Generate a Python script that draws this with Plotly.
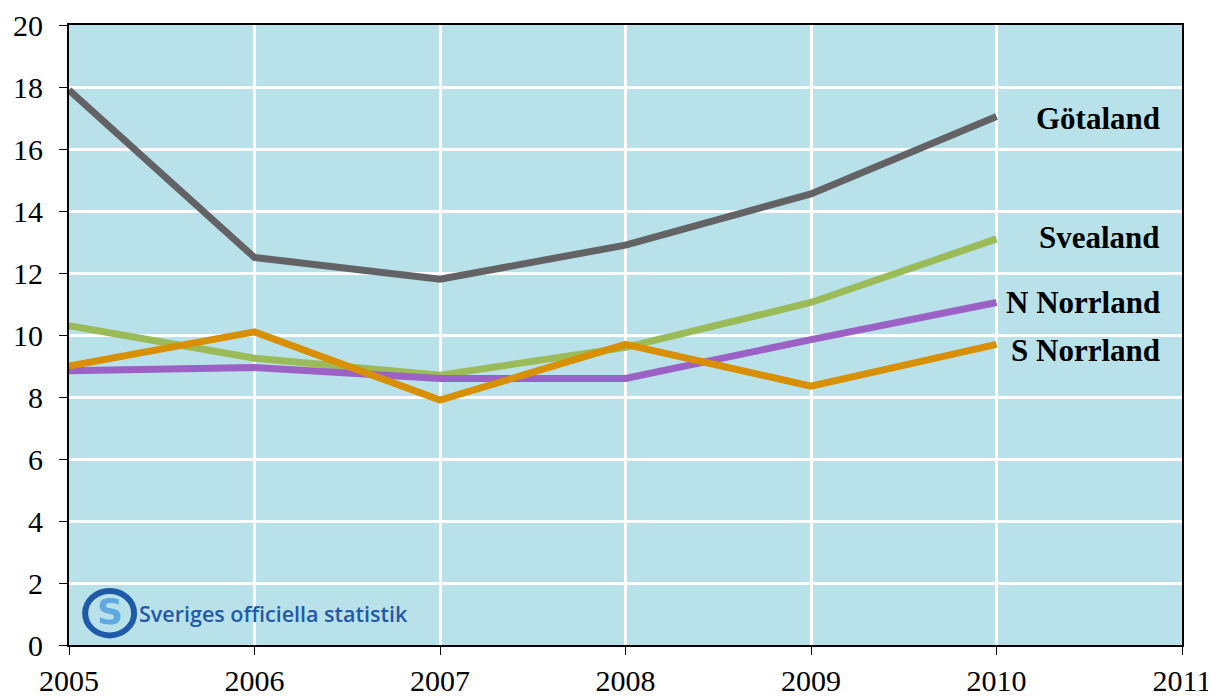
import plotly.graph_objects as go

years = [2005, 2006, 2007, 2008, 2009, 2010]
gotaland = [17.9, 12.5, 11.8, 12.9, 14.55, 17.05]
svealand = [10.3, 9.25, 8.7, 9.6, 11.05, 13.1]
n_norrland = [8.85, 8.95, 8.6, 8.6, 9.85, 11.05]
s_norrland = [9.0, 10.1, 7.9, 9.7, 8.35, 9.7]

series = [
    ("Götaland", gotaland, "#636366"),
    ("Svealand", svealand, "#9bbb59"),
    ("N Norrland", n_norrland, "#9b61c5"),
    ("S Norrland", s_norrland, "#d89000"),
]
label_y = [17.0, 13.15, 11.05, 9.5]

fig = go.Figure()
for name, vals, col in series:
    fig.add_trace(go.Scatter(x=years, y=vals, mode="lines", name=name,
                             line=dict(color=col, width=7), showlegend=False))

for (name, vals, col), ly in zip(series, label_y):
    fig.add_annotation(x=2011, y=ly, xref="x", yref="y", text="<b>%s</b>" % name,
                       showarrow=False, xanchor="right", xshift=-20,
                       font=dict(family="Liberation Serif", size=31, color="black"))

# logo
fig.add_shape(type="circle", xref="paper", yref="paper",
              x0=0.0145, x1=0.0585, y0=0.0155, y1=0.087,
              line=dict(color="#1f5aa8", width=6), fillcolor="rgba(0,0,0,0)")
fig.add_annotation(x=0.0365, y=0.0512, xref="paper", yref="paper", text="<b>S</b>",
                   showarrow=False, yanchor="middle", xanchor="center", yshift=2,
                   font=dict(family="DejaVu Sans", size=36, color="#5fa8e0"))
fig.add_annotation(x=0.0615, y=0.0512, xref="paper", yref="paper",
                   text="Sveriges officiella statistik", showarrow=False,
                   xanchor="left", yanchor="middle",
                   font=dict(family="Open Sans", size=21.5, color="#2359a8", weight=600))

fig.update_layout(
    width=1216, height=697,
    margin=dict(l=61, r=42, t=17, b=60),
    paper_bgcolor="white", plot_bgcolor="#b9e1ea",
    font=dict(family="Liberation Serif", size=30, color="black"),
)
fig.update_xaxes(range=[2005, 2011], dtick=1, tick0=2005, showgrid=True,
                 gridcolor="white", gridwidth=3, showline=True, linecolor="black",
                 linewidth=2, mirror=True, ticks="outside", ticklen=8,
                 tickcolor="black", zeroline=False, automargin=False,
                 tickfont=dict(family="Liberation Serif", size=30, color="black"))
fig.update_yaxes(range=[0, 20], dtick=2, showgrid=True, gridcolor="white", gridwidth=3,
                 showline=True, linecolor="black", linewidth=2, mirror=True,
                 ticks="outside", ticklen=8, tickcolor="black", zeroline=False,
                 automargin=False, ticklabelstandoff=10,
                 tickfont=dict(family="Liberation Serif", size=30, color="black"))

fig.write_html("out.html")
